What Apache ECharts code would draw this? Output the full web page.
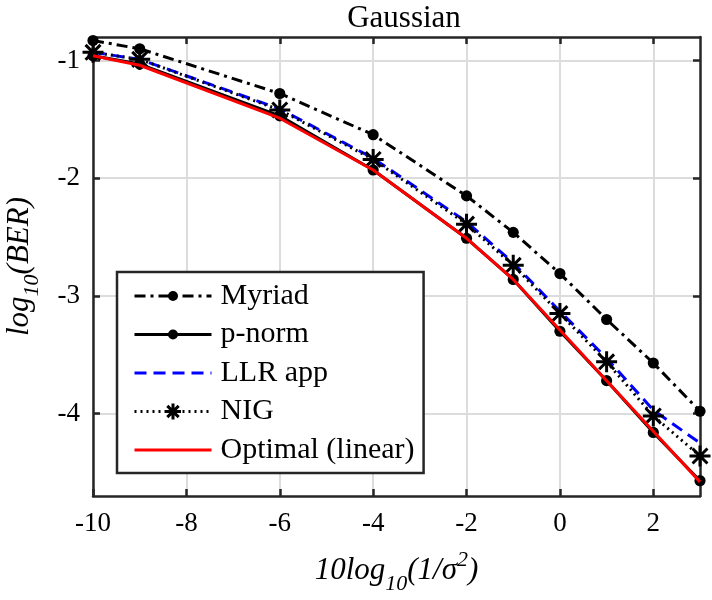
<!DOCTYPE html>
<html>
<head>
<meta charset="utf-8">
<script src="https://cdn.jsdelivr.net/npm/echarts@6/dist/echarts.min.js"></script>
<style>
html,body{margin:0;padding:0;background:#fff;}
#chart{width:712px;height:600px;}
</style>
</head>
<body>
<div id="chart"></div>
<script>
const snrValues = [-10, -9, -6, -4, -2, -1, 0, 1, 2, 3];
const myriad  = [-0.83, -0.90, -1.28, -1.63, -2.15, -2.46, -2.81, -3.20, -3.57, -3.98];
const pnorm   = [-0.96, -1.03, -1.47, -1.93, -2.51, -2.86, -3.30, -3.72, -4.16, -4.57];
const llrApp  = [-0.93, -0.99, -1.41, -1.83, -2.37, -2.72, -3.13, -3.53, -3.97, -4.25];
const nig     = [-0.93, -0.99, -1.42, -1.84, -2.39, -2.74, -3.15, -3.56, -4.02, -4.36];
const optimal = [-0.96, -1.04, -1.49, -1.93, -2.51, -2.86, -3.29, -3.72, -4.15, -4.58];
const seriesNames = ['Myriad', 'p-norm', 'LLR app', 'NIG', 'Optimal (linear)'];
const xTicks = [-10, -8, -6, -4, -2, 0, 2];
const yTicks = [-4, -3, -2, -1];

const pair = (ys) => snrValues.map((x, i) => [x, ys[i]]);
const FONT = '"Liberation Serif", "Times New Roman", serif';
const dotPath = 'path://M0.62 0A0.62 0.62 0 1 1 -0.62 0A0.62 0.62 0 1 1 0.62 0ZM-1 -1L-1 -1M1 1L1 1';
const starPath = 'path://M0 -1L0 1M-1 0L1 0M-0.71 -0.71L0.71 0.71M-0.71 0.71L0.71 -0.71';

const chart = echarts.init(document.getElementById('chart'), null, {renderer: 'canvas'});
const gridColor = '#dcdcdc';
const axisColor = '#262626';
const LW = 3;

const baseX = {
  type: 'value', min: -10, max: 3,
  axisLine: {show: true, onZero: false, lineStyle: {color: axisColor, width: 2.5}},
  axisTick: {show: true, inside: true, length: 7, customValues: xTicks, lineStyle: {color: axisColor, width: 2.5}},
};
const baseY = {
  type: 'value', min: -4.7, max: -0.8,
  axisLine: {show: true, onZero: false, lineStyle: {color: axisColor, width: 2.5}},
  axisTick: {show: true, inside: true, length: 7, customValues: yTicks, lineStyle: {color: axisColor, width: 2.5}},
};

chart.setOption({
  backgroundColor: '#fff',
  animation: false,
  title: {
    text: 'Gaussian', left: 399, top: -2, textAlign: 'center',
    textStyle: {fontFamily: FONT, fontSize: 31, fontWeight: 'normal', color: '#000'}
  },
  grid: {left: 93, right: 12, top: 37, bottom: 104, containLabel: false, outerBoundsMode: 'none'},
  xAxis: [
    Object.assign({}, baseX, {
      position: 'bottom',
      name: '{i|10log}{sub|10}{i|(1/σ}{sup|2}{i|)}',
      nameLocation: 'middle', nameGap: 51,
      nameTextStyle: {
        fontFamily: FONT, color: '#000',
        rich: {
          i: {fontFamily: FONT, fontStyle: 'italic', fontSize: 31, color: '#000'},
          sub: {fontFamily: FONT, fontStyle: 'italic', fontSize: 22, color: '#000', padding: [26, 0, 0, 0]},
          sup: {fontFamily: FONT, fontStyle: 'italic', fontSize: 22, color: '#000', padding: [0, 0, 22, 0]}
        }
      },
      axisLabel: {show: true, customValues: xTicks, margin: 14, fontFamily: FONT, fontSize: 27, color: '#000'},
      splitLine: {show: true, lineStyle: {color: gridColor, width: 2}}
    }),
    Object.assign({}, baseX, {
      position: 'top',
      axisLabel: {show: false},
      splitLine: {show: false}
    })
  ],
  yAxis: [
    Object.assign({}, baseY, {
      position: 'left',
      name: '{i|log}{sub|10}{i|(BER)}',
      nameLocation: 'middle', nameGap: 50, nameRotate: 90,
      nameTextStyle: {
        fontFamily: FONT, color: '#000',
        rich: {
          i: {fontFamily: FONT, fontStyle: 'italic', fontSize: 31, color: '#000'},
          sub: {fontFamily: FONT, fontStyle: 'italic', fontSize: 22, color: '#000', padding: [24, 0, 0, 0]}
        }
      },
      axisLabel: {show: true, customValues: yTicks, margin: 13, fontFamily: FONT, fontSize: 27, color: '#000'},
      splitLine: {show: true, lineStyle: {color: gridColor, width: 2}}
    }),
    Object.assign({}, baseY, {
      position: 'right',
      axisLabel: {show: false},
      splitLine: {show: false}
    })
  ],
  legend: {
    orient: 'vertical', left: 117, top: 272,
    padding: [9, 9, 8, 16],
    itemWidth: 77, itemHeight: 20, itemGap: 8.5,
    backgroundColor: '#fff', borderColor: axisColor, borderWidth: 2.5,
    lineStyle: {width: 3},
    textStyle: {fontFamily: FONT, fontSize: 30, color: '#000', lineHeight: 30, padding: [0, 0, 0, 4]},
    data: [
      {name: 'Myriad'},
      {name: 'p-norm'},
      {name: 'LLR app', itemStyle: {opacity: 0}},
      {name: 'NIG', itemStyle: {borderColor: '#000', borderWidth: 3, color: '#000'}},
      {name: 'Optimal (linear)', itemStyle: {opacity: 0}}
    ]
  },
  series: [
    {
      name: seriesNames[0], type: 'line', data: pair(myriad),
      symbol: dotPath, symbolSize: 18, showAllSymbol: true,
      itemStyle: {color: '#000'},
      lineStyle: {color: '#000', width: LW, type: [11, 5, 3, 5]},
      z: 3
    },
    {
      name: seriesNames[1], type: 'line', data: pair(pnorm),
      symbol: dotPath, symbolSize: 18, showAllSymbol: true,
      itemStyle: {color: '#000'},
      lineStyle: {color: '#000', width: LW, type: 'solid'},
      z: 3
    },
    {
      name: seriesNames[2], type: 'line', data: pair(llrApp),
      symbol: 'none',
      itemStyle: {color: '#0000ff'},
      lineStyle: {color: '#0000ff', width: LW, type: [12, 7]},
      z: 4
    },
    {
      name: seriesNames[3], type: 'line', data: pair(nig),
      symbol: starPath, symbolSize: 21, showAllSymbol: true,
      itemStyle: {color: '#000', borderColor: '#000', borderWidth: 3},
      lineStyle: {color: '#000', width: LW, type: [2, 4]},
      z: 5
    },
    {
      name: seriesNames[4], type: 'line', data: pair(optimal),
      symbol: 'none',
      itemStyle: {color: '#ff0000'},
      lineStyle: {color: '#ff0000', width: LW, type: 'solid'},
      z: 6
    }
  ]
});
</script>
</body>
</html>
